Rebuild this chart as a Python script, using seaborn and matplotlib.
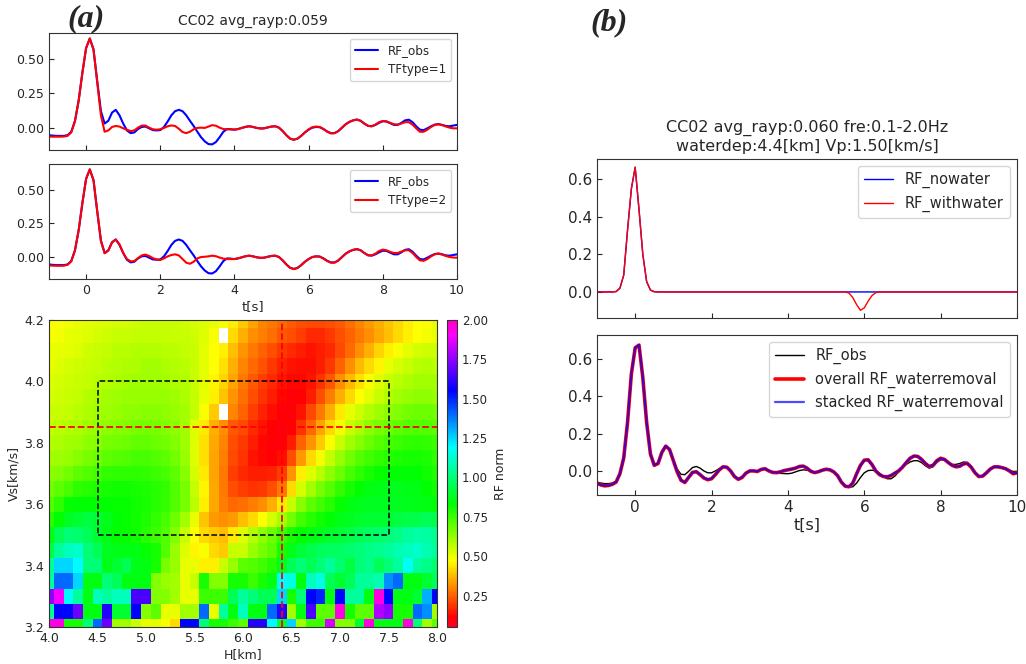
import numpy as np
import matplotlib
matplotlib.use("Agg")
import matplotlib.pyplot as plt
from matplotlib.patches import Rectangle
import seaborn as sns

# ---------------------------------------------------------------- data
# sample times of all receiver functions [s]
t = np.round(np.linspace(-1.0, 10.0, 111), 1)

# panel (a): observed RF and the two transfer-function fits
rf_obs_a = [
    -0.055, -0.058, -0.060, -0.060, -0.060, -0.055, -0.030, 0.050, 0.200, 0.400,
    0.580, 0.650, 0.570, 0.340, 0.120, 0.030, 0.050, 0.110, 0.130, 0.090,
    0.030, -0.020, -0.040, -0.035, -0.010, 0.005, 0.008, -0.005, -0.018, -0.020,
    -0.018, 0.005, 0.045, 0.090, 0.120, 0.130, 0.120, 0.090, 0.050, 0.012,
    -0.030, -0.070, -0.100, -0.120, -0.122, -0.105, -0.070, -0.030, -0.010, -0.012,
    -0.015, -0.010, -0.002, 0.006, 0.010, 0.005, -0.002, -0.006, -0.005, 0.002,
    0.008, 0.010, 0.000, -0.025, -0.055, -0.080, -0.088, -0.080, -0.060, -0.035,
    -0.015, 0.000, 0.005, 0.003, -0.010, -0.028, -0.040, -0.040, -0.025, 0.000,
    0.025, 0.042, 0.053, 0.059, 0.050, 0.030, 0.013, 0.010, 0.020, 0.035,
    0.047, 0.045, 0.032, 0.020, 0.020, 0.035, 0.053, 0.058, 0.040, 0.010,
    -0.015, -0.018, -0.005, 0.010, 0.022, 0.026, 0.020, 0.012, 0.010, 0.015,
    0.020]
rf_tf1 = [
    -0.065, -0.066, -0.066, -0.066, -0.065, -0.060, -0.035, 0.045, 0.195, 0.400,
    0.580, 0.650, 0.570, 0.330, 0.090, -0.030, -0.020, 0.005, 0.012, 0.008,
    -0.005, -0.015, -0.025, -0.020, 0.000, 0.015, 0.015, 0.000, -0.012, -0.015,
    -0.012, -0.002, 0.010, 0.016, 0.012, -0.008, -0.032, -0.040, -0.030, -0.012,
    -0.002, 0.000, -0.002, 0.008, 0.018, 0.014, 0.000, -0.010, -0.012, -0.012,
    -0.014, -0.010, -0.002, 0.006, 0.010, 0.005, -0.002, -0.006, -0.005, 0.002,
    0.008, 0.010, 0.000, -0.025, -0.055, -0.080, -0.088, -0.080, -0.060, -0.035,
    -0.012, 0.003, 0.008, 0.005, -0.010, -0.030, -0.042, -0.040, -0.025, 0.000,
    0.025, 0.042, 0.053, 0.059, 0.050, 0.030, 0.013, 0.010, 0.022, 0.040,
    0.048, 0.045, 0.035, 0.025, 0.022, 0.030, 0.040, 0.040, 0.022, -0.005,
    -0.030, -0.030, -0.015, 0.005, 0.020, 0.024, 0.018, 0.008, 0.000, -0.005,
    -0.005]
rf_tf2 = [
    -0.062, -0.064, -0.065, -0.065, -0.064, -0.058, -0.032, 0.048, 0.198, 0.400,
    0.580, 0.650, 0.570, 0.340, 0.120, 0.028, 0.048, 0.108, 0.130, 0.095,
    0.030, -0.015, -0.032, -0.030, -0.008, 0.012, 0.018, 0.008, -0.008, -0.018,
    -0.022, -0.010, 0.005, 0.015, 0.020, 0.012, -0.015, -0.042, -0.050, -0.035,
    -0.010, 0.000, 0.002, 0.005, 0.010, 0.006, -0.004, -0.012, -0.015, -0.015,
    -0.015, -0.010, -0.002, 0.006, 0.010, 0.005, -0.002, -0.006, -0.005, 0.002,
    0.008, 0.010, 0.000, -0.025, -0.055, -0.080, -0.090, -0.082, -0.060, -0.035,
    -0.015, 0.000, 0.005, 0.003, -0.012, -0.030, -0.042, -0.042, -0.026, 0.000,
    0.025, 0.042, 0.053, 0.058, 0.050, 0.030, 0.013, 0.012, 0.025, 0.045,
    0.055, 0.050, 0.038, 0.030, 0.030, 0.040, 0.050, 0.050, 0.030, 0.000,
    -0.025, -0.028, -0.015, 0.005, 0.020, 0.025, 0.018, 0.008, 0.000, -0.004,
    -0.005]

# panel (b), top: synthetic RF without / with the water layer
rf_nowater = [
    0.000, 0.000, 0.000, 0.000, 0.000, 0.002, 0.020, 0.090, 0.330, 0.550,
    0.665, 0.440, 0.200, 0.055, 0.010, 0.001, 0.000, 0.000, 0.000, 0.000,
    0.000, 0.000, 0.000, 0.000, 0.000, 0.000, 0.000, 0.000, 0.000, 0.000,
    0.000, 0.000, 0.000, 0.000, 0.000, 0.000, 0.000, 0.000, 0.000, 0.000,
    0.000, 0.000, 0.000, 0.000, 0.000, 0.000, 0.000, 0.000, 0.000, 0.000,
    0.000, 0.000, 0.000, 0.000, 0.000, 0.000, 0.000, 0.000, 0.000, 0.000,
    0.000, 0.000, 0.000, 0.000, 0.000, 0.000, 0.000, 0.000, 0.000, 0.000,
    0.000, 0.000, 0.000, 0.000, 0.000, 0.000, 0.000, 0.000, 0.000, 0.000,
    0.000, 0.000, 0.000, 0.000, 0.000, 0.000, 0.000, 0.000, 0.000, 0.000,
    0.000, 0.000, 0.000, 0.000, 0.000, 0.000, 0.000, 0.000, 0.000, 0.000,
    0.000, 0.000, 0.000, 0.000, 0.000, 0.000, 0.000, 0.000, 0.000, 0.000,
    0.000]
rf_withwater = [
    0.000, 0.000, 0.000, 0.000, 0.000, 0.002, 0.020, 0.090, 0.330, 0.550,
    0.665, 0.440, 0.200, 0.055, 0.010, 0.001, 0.000, 0.000, 0.000, 0.000,
    0.000, 0.000, 0.000, 0.000, 0.000, 0.000, 0.000, 0.000, 0.000, 0.000,
    0.000, 0.000, 0.000, 0.000, 0.000, 0.000, 0.000, 0.000, 0.000, 0.000,
    0.000, 0.000, 0.000, 0.000, 0.000, 0.000, 0.000, 0.000, 0.000, 0.000,
    0.000, 0.000, 0.000, 0.000, 0.000, 0.000, 0.000, 0.000, 0.000, 0.000,
    0.000, 0.000, 0.000, 0.000, 0.000, 0.000, -0.006, -0.030, -0.068, -0.098,
    -0.085, -0.050, -0.020, -0.004, 0.000, 0.000, 0.000, 0.000, 0.000, 0.000,
    0.000, 0.000, 0.000, 0.000, 0.000, 0.000, 0.000, 0.000, 0.000, 0.000,
    0.000, 0.000, 0.000, 0.000, 0.000, 0.000, 0.000, 0.000, 0.000, 0.000,
    0.000, 0.000, 0.000, 0.000, 0.000, 0.000, 0.000, 0.000, 0.000, 0.000,
    0.000]

# panel (b), bottom: observed RF and the water-removed RFs
rf_obs_b = [
    -0.060, -0.065, -0.068, -0.068, -0.065, -0.055, -0.015, 0.070, 0.260, 0.510,
    0.655, 0.670, 0.500, 0.260, 0.090, 0.030, 0.040, 0.100, 0.130, 0.115,
    0.060, 0.010, -0.018, -0.020, -0.002, 0.018, 0.024, 0.015, 0.000, -0.010,
    -0.010, 0.000, 0.012, 0.022, 0.020, 0.000, -0.028, -0.042, -0.033, -0.012,
    0.000, 0.000, -0.004, 0.006, 0.010, -0.002, -0.010, -0.013, -0.013, -0.014,
    -0.015, -0.012, -0.005, 0.002, 0.006, 0.004, -0.002, -0.006, -0.004, 0.003,
    0.007, 0.005, -0.006, -0.025, -0.055, -0.078, -0.087, -0.085, -0.065, -0.035,
    -0.010, 0.002, 0.004, 0.000, -0.012, -0.030, -0.042, -0.042, -0.028, -0.005,
    0.018, 0.035, 0.048, 0.055, 0.055, 0.045, 0.028, 0.015, 0.022, 0.045,
    0.060, 0.058, 0.045, 0.035, 0.035, 0.040, 0.048, 0.046, 0.025, -0.005,
    -0.027, -0.027, -0.010, 0.010, 0.022, 0.025, 0.022, 0.015, 0.005, -0.003,
    -0.002]
rf_overall = [
    -0.065, -0.075, -0.080, -0.078, -0.072, -0.060, -0.015, 0.070, 0.260, 0.520,
    0.660, 0.675, 0.500, 0.260, 0.090, 0.030, 0.040, 0.100, 0.133, 0.115,
    0.055, -0.005, -0.050, -0.062, -0.035, -0.008, -0.004, -0.020, -0.038, -0.047,
    -0.042, -0.020, 0.005, 0.022, 0.020, 0.000, -0.030, -0.045, -0.035, -0.012,
    0.000, 0.000, -0.003, 0.008, 0.012, 0.000, -0.008, -0.009, -0.005, 0.002,
    0.006, 0.010, 0.015, 0.024, 0.026, 0.015, -0.002, -0.009, -0.004, 0.004,
    0.009, 0.006, -0.005, -0.025, -0.060, -0.082, -0.085, -0.065, -0.015, 0.030,
    0.058, 0.060, 0.035, 0.000, -0.020, -0.030, -0.032, -0.025, -0.012, 0.000,
    0.020, 0.045, 0.068, 0.080, 0.078, 0.062, 0.040, 0.024, 0.030, 0.055,
    0.068, 0.062, 0.045, 0.030, 0.022, 0.025, 0.038, 0.040, 0.020, -0.010,
    -0.030, -0.028, -0.010, 0.010, 0.022, 0.022, 0.018, 0.012, 0.000, -0.015,
    -0.010]
rf_stacked = [
    -0.066, -0.075, -0.079, -0.078, -0.071, -0.059, -0.016, 0.069, 0.262, 0.522,
    0.662, 0.676, 0.502, 0.261, 0.091, 0.030, 0.041, 0.101, 0.134, 0.116,
    0.056, -0.004, -0.049, -0.061, -0.034, -0.008, -0.004, -0.019, -0.037, -0.046,
    -0.041, -0.019, 0.006, 0.023, 0.020, 0.000, -0.029, -0.044, -0.034, -0.012,
    0.000, 0.001, -0.002, 0.008, 0.012, 0.001, -0.007, -0.009, -0.005, 0.002,
    0.006, 0.010, 0.016, 0.024, 0.026, 0.016, -0.001, -0.008, -0.004, 0.004,
    0.009, 0.006, -0.005, -0.025, -0.059, -0.081, -0.084, -0.064, -0.015, 0.030,
    0.057, 0.059, 0.035, 0.001, -0.019, -0.029, -0.031, -0.024, -0.011, 0.001,
    0.021, 0.046, 0.068, 0.080, 0.078, 0.062, 0.041, 0.025, 0.031, 0.055,
    0.068, 0.062, 0.045, 0.031, 0.023, 0.026, 0.038, 0.040, 0.021, -0.009,
    -0.029, -0.027, -0.010, 0.010, 0.022, 0.022, 0.018, 0.012, 0.001, -0.014,
    -0.010]

# grid search misfit: thickness H [km] (columns) x Vs [km/s] (rows, top = 4.20)
h_grid = np.round(np.linspace(4.0, 8.0, 41), 2)
vs_grid = np.round(np.linspace(4.2, 3.2, 21), 2)
nan = np.nan
rf_norm = [
    [0.48, 0.48, 0.49, 0.50, 0.51, 0.52, 0.52, 0.53, 0.53, 0.54, 0.55, 0.55, 0.55, 0.55, 0.54, 0.53, 0.52, 0.50, 0.48, 0.45,
     0.40, 0.34, 0.30, 0.28, 0.26, 0.24, 0.22, 0.21, 0.21, 0.22, 0.24, 0.27, 0.30, 0.33, 0.36, 0.39, 0.42, 0.45, 0.47, 0.48, 0.50],
    [0.48, 0.49, 0.50, 0.51, 0.52, 0.53, 0.54, 0.55, 0.55, 0.56, 0.56, 0.56, 0.56, 0.55, 0.55, 0.54, 0.52, 0.48, nan, 0.42,
     0.36, 0.31, 0.29, 0.27, 0.24, 0.22, 0.20, 0.17, 0.17, 0.19, 0.22, 0.25, 0.28, 0.31, 0.35, 0.38, 0.42, 0.45, 0.47, 0.49, 0.50],
    [0.50, 0.50, 0.51, 0.52, 0.54, 0.55, 0.56, 0.57, 0.57, 0.58, 0.58, 0.58, 0.57, 0.57, 0.56, 0.55, 0.51, 0.47, 0.45, 0.38,
     0.32, 0.28, 0.25, 0.22, 0.19, 0.17, 0.15, 0.14, 0.15, 0.17, 0.21, 0.26, 0.31, 0.36, 0.41, 0.45, 0.48, 0.51, 0.53, 0.54, 0.54],
    [0.50, 0.52, 0.53, 0.54, 0.55, 0.56, 0.57, 0.58, 0.59, 0.59, 0.60, 0.60, 0.59, 0.58, 0.57, 0.55, 0.51, 0.47, 0.43, 0.36,
     0.30, 0.26, 0.23, 0.19, 0.16, 0.14, 0.13, 0.13, 0.15, 0.19, 0.25, 0.31, 0.37, 0.42, 0.46, 0.50, 0.53, 0.55, 0.57, 0.58, 0.57],
    [0.52, 0.53, 0.54, 0.55, 0.56, 0.57, 0.58, 0.59, 0.60, 0.61, 0.61, 0.61, 0.60, 0.59, 0.58, 0.55, 0.51, 0.46, 0.41, 0.34,
     0.28, 0.24, 0.20, 0.17, 0.14, 0.12, 0.12, 0.14, 0.18, 0.24, 0.31, 0.37, 0.43, 0.48, 0.52, 0.55, 0.57, 0.59, 0.60, 0.60, 0.60],
    [0.53, 0.54, 0.55, 0.56, 0.58, 0.59, 0.60, 0.61, 0.62, 0.62, 0.62, 0.62, 0.62, 0.61, 0.59, 0.56, 0.50, 0.45, 0.39, 0.32,
     0.27, 0.22, 0.18, 0.15, 0.12, 0.10, 0.11, 0.15, 0.22, 0.29, 0.36, 0.42, 0.47, 0.51, 0.55, 0.58, 0.60, 0.62, 0.63, 0.63, 0.62],
    [0.55, 0.55, 0.56, 0.57, 0.59, 0.60, 0.61, 0.62, 0.63, 0.63, 0.64, 0.64, 0.63, 0.62, 0.60, 0.56, 0.48, 0.40, nan, 0.30,
     0.25, 0.20, 0.16, 0.13, 0.10, 0.10, 0.14, 0.21, 0.28, 0.36, 0.44, 0.50, 0.54, 0.58, 0.61, 0.63, 0.65, 0.67, 0.68, 0.68, 0.67],
    [0.56, 0.57, 0.58, 0.59, 0.61, 0.62, 0.63, 0.64, 0.65, 0.66, 0.66, 0.66, 0.65, 0.63, 0.60, 0.52, 0.44, 0.36, 0.31, 0.24,
     0.21, 0.17, 0.14, 0.11, 0.09, 0.11, 0.18, 0.26, 0.34, 0.42, 0.49, 0.55, 0.59, 0.63, 0.66, 0.68, 0.70, 0.72, 0.72, 0.72, 0.70],
    [0.58, 0.59, 0.60, 0.61, 0.63, 0.64, 0.66, 0.67, 0.68, 0.69, 0.69, 0.68, 0.67, 0.65, 0.61, 0.52, 0.43, 0.35, 0.30, 0.22,
     0.19, 0.15, 0.12, 0.10, 0.10, 0.15, 0.25, 0.32, 0.40, 0.48, 0.55, 0.60, 0.64, 0.68, 0.71, 0.73, 0.75, 0.76, 0.77, 0.76, 0.75],
    [0.60, 0.61, 0.62, 0.64, 0.66, 0.68, 0.70, 0.71, 0.72, 0.73, 0.73, 0.72, 0.70, 0.67, 0.62, 0.52, 0.43, 0.34, 0.29, 0.21,
     0.18, 0.14, 0.12, 0.11, 0.13, 0.22, 0.33, 0.42, 0.49, 0.56, 0.62, 0.67, 0.71, 0.74, 0.76, 0.78, 0.79, 0.80, 0.80, 0.79, 0.77],
    [0.63, 0.65, 0.67, 0.70, 0.72, 0.74, 0.76, 0.77, 0.77, 0.77, 0.76, 0.75, 0.73, 0.70, 0.64, 0.53, 0.44, 0.34, 0.28, 0.20,
     0.17, 0.15, 0.15, 0.16, 0.20, 0.32, 0.45, 0.52, 0.57, 0.63, 0.68, 0.73, 0.77, 0.80, 0.82, 0.83, 0.84, 0.84, 0.83, 0.81, 0.79],
    [0.67, 0.70, 0.73, 0.77, 0.78, 0.79, 0.80, 0.81, 0.81, 0.80, 0.79, 0.78, 0.76, 0.72, 0.66, 0.56, 0.46, 0.35, 0.28, 0.22,
     0.20, 0.18, 0.19, 0.22, 0.28, 0.42, 0.53, 0.60, 0.66, 0.71, 0.76, 0.80, 0.83, 0.85, 0.86, 0.87, 0.87, 0.86, 0.85, 0.83, 0.81],
    [0.72, 0.77, 0.82, 0.84, 0.84, 0.83, 0.83, 0.82, 0.82, 0.81, 0.80, 0.78, 0.76, 0.72, 0.66, 0.57, 0.45, 0.35, 0.29, 0.26,
     0.27, 0.29, 0.31, 0.36, 0.44, 0.56, 0.64, 0.70, 0.74, 0.78, 0.82, 0.85, 0.87, 0.88, 0.88, 0.88, 0.88, 0.87, 0.86, 0.85, 0.84],
    [0.78, 0.83, 0.88, 0.90, 0.92, 0.90, 0.87, 0.84, 0.82, 0.81, 0.79, 0.76, 0.73, 0.68, 0.60, 0.50, 0.39, 0.33, 0.31, 0.33,
     0.38, 0.42, 0.47, 0.53, 0.60, 0.67, 0.74, 0.78, 0.81, 0.84, 0.86, 0.88, 0.89, 0.90, 0.90, 0.90, 0.92, 0.93, 0.94, 0.95, 0.94],
    [0.85, 0.95, 1.00, 0.98, 0.95, 0.90, 0.86, 0.83, 0.82, 0.81, 0.78, 0.75, 0.72, 0.65, 0.55, 0.47, 0.42, 0.40, 0.38, 0.44,
     0.52, 0.58, 0.63, 0.68, 0.75, 0.80, 0.83, 0.85, 0.87, 0.89, 0.91, 0.93, 0.95, 0.97, 0.98, 1.00, 1.02, 1.05, 1.07, 1.06, 1.04],
    [0.92, 1.05, 1.10, 1.12, 1.00, 0.95, 0.88, 0.86, 0.85, 0.85, 0.82, 0.80, 0.72, 0.62, 0.52, 0.46, 0.48, 0.42, 0.40, 0.55,
     0.55, 0.62, 0.66, 0.70, 0.80, 0.87, 0.91, 0.94, 0.96, 0.97, 0.97, 0.98, 1.00, 1.02, 1.03, 1.05, 1.08, 1.10, 1.12, 1.08, 1.05],
    [1.05, 1.25, 1.25, 1.20, 1.00, 1.00, 0.86, 0.90, 0.95, 0.86, 0.85, 0.80, 0.66, 0.62, 0.50, 0.50, 0.45, 0.45, 0.55, 0.62,
     0.70, 0.72, 0.74, 0.78, 0.88, 0.95, 1.00, 0.95, 1.00, 1.05, 0.98, 0.92, 1.00, 1.02, 0.95, 1.00, 1.05, 1.18, 1.05, 1.02, 0.98],
    [1.05, 1.40, 1.40, 1.25, 0.85, 0.85, 1.00, 0.95, 0.85, 0.85, 0.85, 0.65, 0.62, 0.60, 0.50, 0.55, 0.80, 0.65, 0.65, 0.80,
     0.80, 0.75, 0.80, 0.85, 1.20, 1.15, 0.85, 1.10, 1.15, 0.95, 0.90, 0.95, 1.05, 1.05, 1.08, 1.35, 1.40, 0.85, 0.85, 0.90, 0.95],
    [1.75, 1.90, 1.20, 1.05, 0.85, 1.10, 1.05, 1.10, 1.10, 1.65, 1.65, 0.65, 0.65, 0.60, 0.50, 0.50, 0.75, 0.75, 0.75, 0.95,
     1.05, 1.00, 0.95, 0.95, 1.25, 0.80, 1.00, 1.55, 1.50, 0.85, 1.55, 1.05, 1.05, 0.85, 1.95, 1.55, 0.85, 0.85, 0.90, 1.30, 1.55],
    [1.05, 1.55, 1.55, 1.70, 0.85, 0.85, 1.60, 0.90, 0.90, 1.55, 0.65, 0.70, 0.50, 0.50, 0.60, 0.60, 1.40, 0.50, 1.05, 0.85,
     1.10, 0.85, 0.85, 1.40, 1.60, 0.60, 0.85, 1.65, 0.70, 0.70, 1.95, 0.80, 0.70, 0.70, 1.80, 1.75, 0.80, 0.80, 1.40, 1.35, 0.60],
    [1.95, 1.95, 0.80, 0.80, 1.00, 1.40, 1.70, 0.60, 0.60, 0.55, 0.50, 0.50, 0.48, 0.42, 1.55, 1.55, 1.00, 0.80, 0.80, 0.75,
     0.70, 1.60, 1.60, 1.20, 0.90, 1.25, 0.60, 0.75, 0.75, 1.85, 0.65, 0.65, 0.90, 1.95, 0.85, 0.85, 0.85, 1.95, 1.00, 0.60, 0.70],
]
best_h, best_vs = 6.4, 3.85          # preferred model
box_h, box_vs = (4.5, 7.5), (3.5, 4.0)  # search range

# ---------------------------------------------------------------- style
sns.set_style("ticks", {"xtick.direction": "in", "ytick.direction": "in",
                        "axes.edgecolor": "#333333"})
plt.rcParams["font.family"] = ["DejaVu Sans"]

W, H = 1026, 664
fig = plt.figure(figsize=(W / 100, H / 100), dpi=100)


def px_axes(x0, y0, x1, y1):
    return fig.add_axes([x0 / W, 1 - y1 / H, (x1 - x0) / W, (y1 - y0) / H])


def line(ax, y, **kw):
    sns.lineplot(x=t, y=np.asarray(y), ax=ax, estimator=None, sort=False, **kw)


# ---------------------------------------------------------------- panel (a)
ax_a1 = px_axes(49, 33, 457, 150)
ax_a2 = px_axes(49, 164, 457, 279)
for ax, fit, lab in ((ax_a1, rf_tf1, "TFtype=1"), (ax_a2, rf_tf2, "TFtype=2")):
    line(ax, rf_obs_a, color="b", lw=1.5, label="RF_obs")
    line(ax, fit, color="r", lw=1.5, label=lab)
    ax.set_xlim(-1, 10)
    ax.set_ylim(-0.163, 0.69)
    ax.set_yticks([0.0, 0.25, 0.5])
    ax.yaxis.set_major_formatter("{x:.2f}")
    ax.set_xticks([0, 2, 4, 6, 8, 10])
    ax.tick_params(labelsize=9, length=3.5)
    ax.set_ylabel("")
    ax.legend(loc="upper right", fontsize=8.6)
ax_a1.set_xticklabels([])
ax_a1.set_title("CC02 avg_rayp:0.059", fontsize=10, pad=6)
ax_a2.set_xlabel("t[s]", fontsize=9.5, labelpad=2)

ax_hm = px_axes(49, 320, 437, 627)
cax = px_axes(447, 320, 457, 627)
Z = np.array(rf_norm)[::-1]
mesh = ax_hm.pcolormesh(h_grid, vs_grid[::-1], Z, cmap="gist_rainbow",
                        vmin=0.05, vmax=2.0, shading="nearest")
ax_hm.axvline(best_h, color="r", ls="--", lw=1.3)
ax_hm.axhline(best_vs, color="r", ls="--", lw=1.3)
ax_hm.add_patch(Rectangle((box_h[0], box_vs[0]), box_h[1] - box_h[0],
                          box_vs[1] - box_vs[0], fill=False, ec="k",
                          ls="--", lw=1.1))
ax_hm.set_xlim(4.0, 8.0)
ax_hm.set_ylim(3.2, 4.2)
ax_hm.set_xticks(np.arange(4.0, 8.01, 0.5))
ax_hm.set_yticks(np.arange(3.2, 4.21, 0.2))
ax_hm.xaxis.set_major_formatter("{x:.1f}")
ax_hm.yaxis.set_major_formatter("{x:.1f}")
ax_hm.tick_params(labelsize=9, length=3.5)
ax_hm.set_xlabel("H[km]", fontsize=9, labelpad=2)
ax_hm.set_ylabel("Vs[km/s]", fontsize=9, labelpad=3)
cb = fig.colorbar(mesh, cax=cax)
cb.set_ticks(np.arange(0.25, 2.01, 0.25))
cb.ax.yaxis.set_major_formatter("{x:.2f}")
cb.ax.tick_params(labelsize=8.5, direction="in", length=3)
cb.outline.set_edgecolor("#333333")
cb.set_label("RF norm", fontsize=9, labelpad=4)

# ---------------------------------------------------------------- panel (b)
ax_b1 = px_axes(597, 159, 1017, 318)
ax_b2 = px_axes(597, 335, 1017, 495)

line(ax_b1, rf_nowater, color="b", lw=1.0, label="RF_nowater")
line(ax_b1, rf_withwater, color="r", lw=1.0, label="RF_withwater")
ax_b1.set_title("CC02 avg_rayp:0.060 fre:0.1-2.0Hz\nwaterdep:4.4[km] Vp:1.50[km/s]",
                fontsize=11.5, pad=6)

line(ax_b2, rf_obs_b, color="k", lw=1.0, label="RF_obs")
line(ax_b2, rf_overall, color="r", lw=2.6, label="overall RF_waterremoval")
line(ax_b2, rf_stacked, color="b", lw=1.6, alpha=0.7, label="stacked RF_waterremoval")
ax_b2.set_xlabel("t[s]", fontsize=11.5, labelpad=2)

for ax in (ax_b1, ax_b2):
    ax.set_xlim(-1, 10)
    ax.set_xticks([0, 2, 4, 6, 8, 10])
    ax.set_yticks([0.0, 0.2, 0.4, 0.6])
    ax.yaxis.set_major_formatter("{x:.1f}")
    ax.tick_params(labelsize=11, length=3.5)
    ax.set_ylabel("")
    ax.legend(loc="upper right", fontsize=10.5)
ax_b1.set_ylim(-0.139, 0.709)
ax_b2.set_ylim(-0.129, 0.729)
ax_b1.set_xticklabels([])

# panel letters
fig.text(86 / W, 1 - 19 / H, "(a)", fontsize=23, fontweight="bold", fontstyle="italic",
         family="Liberation Serif", ha="center", va="center")
fig.text(609 / W, 1 - 23 / H, "(b)", fontsize=23, fontweight="bold", fontstyle="italic",
         family="Liberation Serif", ha="center", va="center")

fig.savefig("out.png", dpi=100)
